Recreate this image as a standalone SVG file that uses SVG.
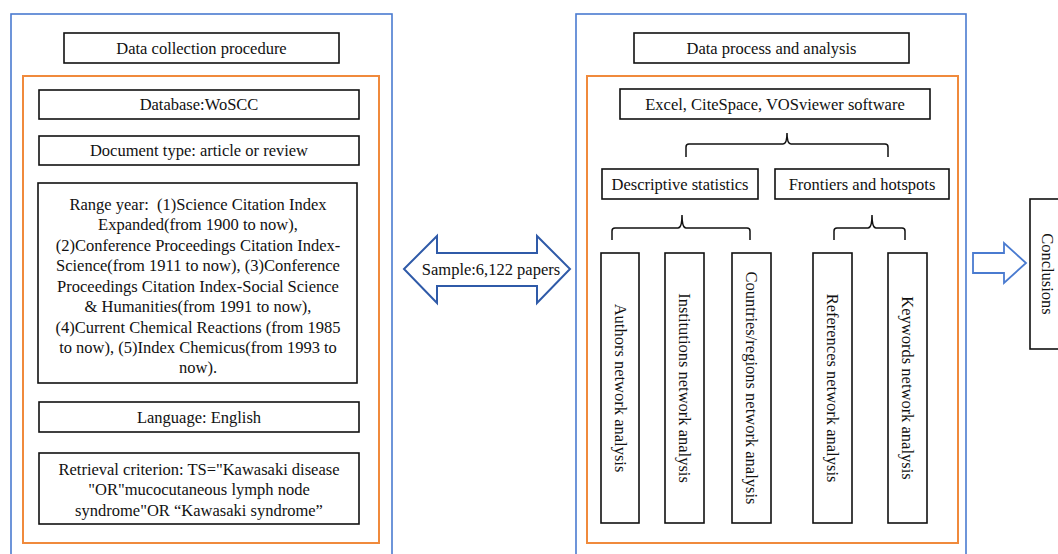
<svg xmlns="http://www.w3.org/2000/svg" width="1058" height="554" viewBox="0 0 1058 554">
<style>
text{font-family:'Liberation Serif','Tinos','Times New Roman','DejaVu Serif',serif;font-size:16.5px;fill:#111;text-anchor:middle}
.box{fill:#fff;stroke:#111;stroke-width:1.6}
.outer{fill:none;stroke:#4A7BD0;stroke-width:1.6}
.inner{fill:none;stroke:#F08A3C;stroke-width:2}
.brace{fill:none;stroke:#111;stroke-width:1.5}
.arr1{fill:#fff;stroke:#2F5AA8;stroke-width:2}
.arr2{fill:#fff;stroke:#4A7BD0;stroke-width:1.8}
</style>
<rect width="1058" height="554" fill="#fff"/>
<g font-family="Liberation Serif, serif">
<g id="left-panel">
<rect class="outer" x="11" y="14" width="381" height="560"/>
<rect class="inner" x="23" y="76" width="356" height="467"/>
</g>
<g id="right-panel">
<rect class="outer" x="576" y="14" width="390" height="560"/>
<rect class="inner" x="587" y="76" width="371" height="467"/>
</g>
<g id="title-left"><rect class="box" x="64" y="33" width="275" height="30"/><text x="201.5" y="53.5">Data collection procedure</text></g>
<g id="database"><rect class="box" x="39" y="90" width="320" height="29"/><text x="199" y="110">Database:WoSCC</text></g>
<g id="doctype"><rect class="box" x="39" y="136" width="320" height="29"/><text x="199" y="156">Document type: article or review</text></g>
<g id="range"><rect class="box" x="38" y="183" width="319" height="200"/>
<text x="198" y="209.5" xml:space="preserve">Range year:  (1)Science Citation Index</text>
<text x="198" y="230">Expanded(from 1900 to now),</text>
<text x="198" y="250.5">(2)Conference Proceedings Citation Index-</text>
<text x="198" y="271">Science(from 1911 to now), (3)Conference</text>
<text x="198" y="291.5">Proceedings Citation Index-Social Science</text>
<text x="198" y="312">&amp; Humanities(from 1991 to now),</text>
<text x="198" y="332.5">(4)Current Chemical Reactions (from 1985</text>
<text x="198" y="352.5">to now), (5)Index Chemicus(from 1993 to</text>
<text x="198" y="372.5">now).</text>
</g>
<g id="language"><rect class="box" x="39" y="402" width="320" height="30"/><text x="199" y="422.5">Language: English</text></g>
<g id="retrieval"><rect class="box" x="39" y="453" width="320" height="71"/>
<text x="199" y="474.5">Retrieval criterion: TS="Kawasaki disease</text>
<text x="199" y="495">"OR"mucocutaneous lymph node</text>
<text x="199" y="515.5">syndrome"OR “Kawasaki syndrome”</text>
</g>
<g id="sample-arrow">
<polygon class="arr1" points="404,269 437,236 437,253 537,253 537,236 570,269 537,303 537,286 437,286 437,303"/>
<text x="491" y="274.5">Sample:6,122 papers</text>
</g>
<g id="title-right"><rect class="box" x="634" y="33" width="275" height="30"/><text x="771.5" y="53.5">Data process and analysis</text></g>
<g id="software"><rect class="box" x="620" y="89" width="310" height="30"/><text x="775" y="109.5">Excel, CiteSpace, VOSviewer software</text></g>
<g id="descriptive"><rect class="box" x="602" y="169" width="156" height="30"/><text x="680" y="189.5">Descriptive statistics</text></g>
<g id="frontiers"><rect class="box" x="775" y="169" width="174" height="30"/><text x="862" y="189.5">Frontiers and hotspots</text></g>
<g id="authors"><rect class="box" x="601" y="253" width="38" height="270"/><text transform="translate(620,388) rotate(90)" y="5.5">Authors network analysis</text></g>
<g id="institutions"><rect class="box" x="665" y="253" width="39" height="270"/><text transform="translate(684.5,388) rotate(90)" y="5.5">Institutions network analysis</text></g>
<g id="countries"><rect class="box" x="732" y="253" width="39" height="270"/><text transform="translate(751.5,388) rotate(90)" y="5.5">Countries/regions network analysis</text></g>
<g id="references"><rect class="box" x="813" y="253" width="39" height="270"/><text transform="translate(832.5,388) rotate(90)" y="5.5">References network analysis</text></g>
<g id="keywords"><rect class="box" x="888" y="253" width="39" height="270"/><text transform="translate(907.5,388) rotate(90)" y="5.5">Keywords network analysis</text></g>
<g id="conclusions"><rect class="box" x="1030" y="199" width="36" height="150"/><text transform="translate(1047,274) rotate(90)" y="5.5">Conclusions</text></g>
<g id="connectors">
<path class="brace" d="M686,157 V147 Q686,144 689,144 H783 Q787,144 787,133 Q787,144 791,144 H885 Q888,144 888,147 V157"/>
<path class="brace" d="M612,240 V231 Q612,228 615,228 H678 Q682,228 682,215 Q682,228 686,228 H747 Q750,228 750,231 V240"/>
<path class="brace" d="M834,240 V231 Q834,228 837,228 H868 Q872,228 872,215 Q872,228 876,228 H902 Q905,228 905,231 V240"/>
<polygon class="arr2" points="973,253 1004,253 1004,243 1026,263 1004,283 1004,273 973,273"/>
</g>
</g>
</svg>
